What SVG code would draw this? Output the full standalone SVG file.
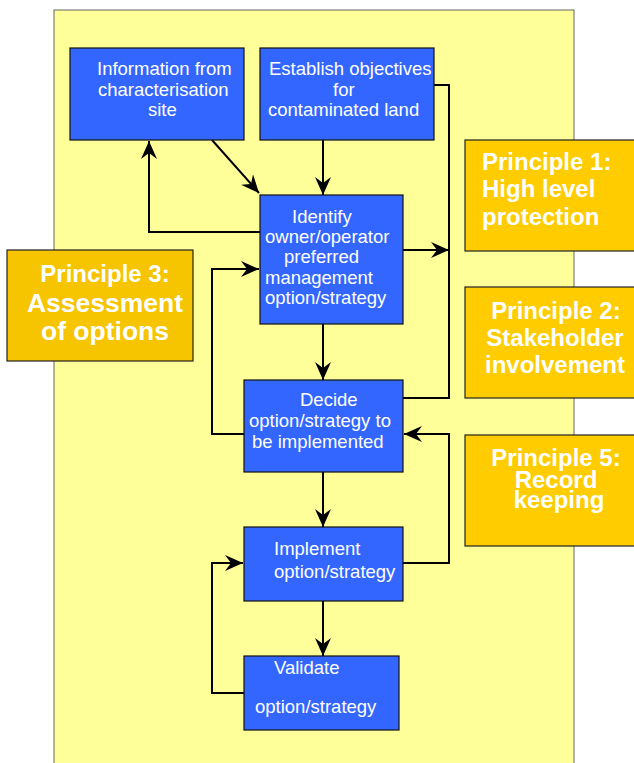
<svg xmlns="http://www.w3.org/2000/svg" width="634" height="763" viewBox="0 0 634 763">
<style>
.bg{fill:#FFFF99;stroke:#666;stroke-width:1}
.box{fill:#3366FF;stroke:#111;stroke-width:1.2}
.pr{fill:#FFCC00;stroke:#222;stroke-width:1.2}
.t{font-family:"Liberation Sans",Arial,sans-serif;font-size:18.5px;fill:#fff}
.p{font-family:"Liberation Sans",Arial,sans-serif;font-size:24px;font-weight:bold;fill:#fff}
.c{fill:none;stroke:#000;stroke-width:2}
</style>
<defs>
<marker id="ah" viewBox="0 0 18 16" refX="18" refY="8" markerWidth="18" markerHeight="16" markerUnits="userSpaceOnUse" orient="auto">
<path d="M0,0 L18,8 L0,16 L6,8 z" fill="#000"/>
</marker>
</defs>
<rect width="634" height="763" fill="#fff"/>
<rect class="bg" x="54" y="10" width="520" height="760"/>
<g id="connectors">
<line class="c" x1="212" y1="140" x2="259" y2="193" marker-end="url(#ah)"/>
<line class="c" x1="323" y1="140" x2="323" y2="195" marker-end="url(#ah)"/>
<polyline class="c" points="260,232 149,232 149,141" marker-end="url(#ah)"/>
<polyline class="c" points="434,85 449,85 449,398 403,398"/>
<line class="c" x1="403" y1="250" x2="449" y2="250" marker-end="url(#ah)"/>
<polyline class="c" points="403,563 449,563 449,434 404,434" marker-end="url(#ah)"/>
<polyline class="c" points="244,434 212,434 212,269 259,269" marker-end="url(#ah)"/>
<line class="c" x1="323" y1="324" x2="323" y2="380" marker-end="url(#ah)"/>
<line class="c" x1="323" y1="472" x2="323" y2="527" marker-end="url(#ah)"/>
<line class="c" x1="323" y1="601" x2="323" y2="656" marker-end="url(#ah)"/>
<polyline class="c" points="244,693 212,693 212,563 243,563" marker-end="url(#ah)"/>
</g>
<g id="info">
<rect class="box" x="70" y="48" width="174" height="92"/>
<text class="t" x="97" y="75">Information from</text>
<text class="t" x="98" y="96">characterisation</text>
<text class="t" x="148" y="116">site</text>
</g>
<g id="objectives">
<rect class="box" x="260" y="48" width="174" height="92"/>
<text class="t" x="269" y="75">Establish objectives</text>
<text class="t" x="333" y="96">for</text>
<text class="t" x="268" y="116">contaminated land</text>
</g>
<g id="identify">
<rect class="box" x="260" y="195" width="143" height="129"/>
<text class="t" x="292" y="223">Identify</text>
<text class="t" x="265" y="243">owner/operator</text>
<text class="t" x="284" y="263">preferred</text>
<text class="t" x="265" y="284">management</text>
<text class="t" x="265" y="304">option/strategy</text>
</g>
<g id="decide">
<rect class="box" x="244" y="380" width="159" height="92"/>
<text class="t" x="300" y="406">Decide</text>
<text class="t" x="249" y="427">option/strategy to</text>
<text class="t" x="252" y="448">be implemented</text>
</g>
<g id="implement">
<rect class="box" x="244" y="527" width="159" height="74"/>
<text class="t" x="274" y="555">Implement</text>
<text class="t" x="274" y="578">option/strategy</text>
</g>
<g id="validate">
<rect class="box" x="244" y="656" width="155" height="74"/>
<text class="t" x="274" y="674">Validate</text>
<text class="t" x="255" y="713">option/strategy</text>
</g>
<g id="principle1">
<rect class="pr" x="465" y="140" width="180" height="111"/>
<text class="p" x="482" y="170">Principle 1:</text>
<text class="p" x="482" y="197">High level</text>
<text class="p" x="482" y="225">protection</text>
</g>
<g id="principle2">
<rect class="pr" x="465" y="287" width="180" height="111"/>
<text class="p" x="556" y="319" text-anchor="middle">Principle 2:</text>
<text class="p" x="555" y="346" text-anchor="middle">Stakeholder</text>
<text class="p" x="555" y="373" text-anchor="middle">involvement</text>
</g>
<g id="principle5">
<rect class="pr" x="465" y="435" width="180" height="111"/>
<text class="p" x="556" y="466" text-anchor="middle">Principle 5:</text>
<text class="p" x="556" y="488" text-anchor="middle">Record</text>
<text class="p" x="559" y="508" text-anchor="middle">keeping</text>
</g>
<g id="principle3">
<rect class="pr" x="7" y="250" width="186" height="111" style="fill:#F7C400"/>
<text class="p" x="105" y="282" text-anchor="middle">Principle 3:</text>
<text class="p" x="105" y="312" text-anchor="middle" style="font-size:26.5px">Assessment</text>
<text class="p" x="105" y="340" text-anchor="middle" style="font-size:26.5px">of options</text>
</g>
</svg>
